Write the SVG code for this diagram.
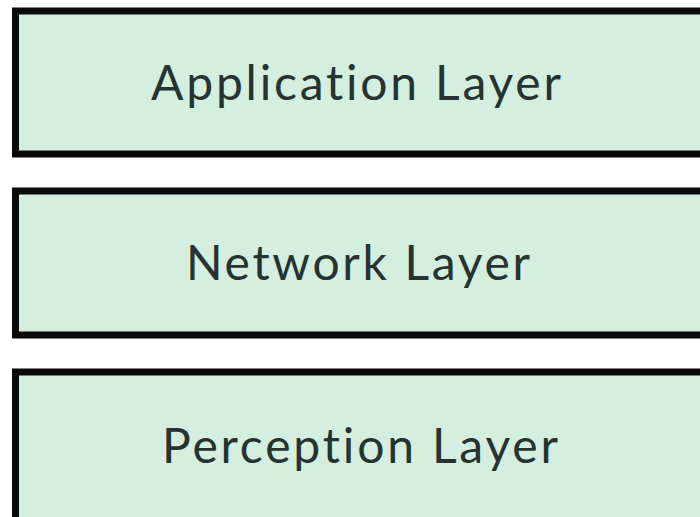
<svg xmlns="http://www.w3.org/2000/svg" width="700" height="517" viewBox="0 0 700 517">
<style>
.box{fill:#d4eedf;stroke:#0a0a0a;stroke-width:7}
.lbl{font-family:Lato,"Open Sans","Liberation Sans",sans-serif;font-size:48px;fill:#263330;text-anchor:middle;font-variant-ligatures:none;lengthAdjust:spacing}
</style>
<rect width="700" height="517" fill="#ffffff"/>
<g id="application-layer">
<rect class="box" x="15.5" y="11" width="700" height="143"/>
<text class="lbl" x="356" y="100" textLength="410" lengthAdjust="spacing">Application Layer</text>
</g>
<g id="network-layer">
<rect class="box" x="15.5" y="191" width="700" height="144"/>
<text class="lbl" x="358" y="280" textLength="344" lengthAdjust="spacing">Network Layer</text>
</g>
<g id="perception-layer">
<rect class="box" x="15.5" y="372" width="700" height="160"/>
<text class="lbl" x="360" y="463" textLength="396" lengthAdjust="spacing">Perception Layer</text>
</g>
<g id="connectors"/>
</svg>
